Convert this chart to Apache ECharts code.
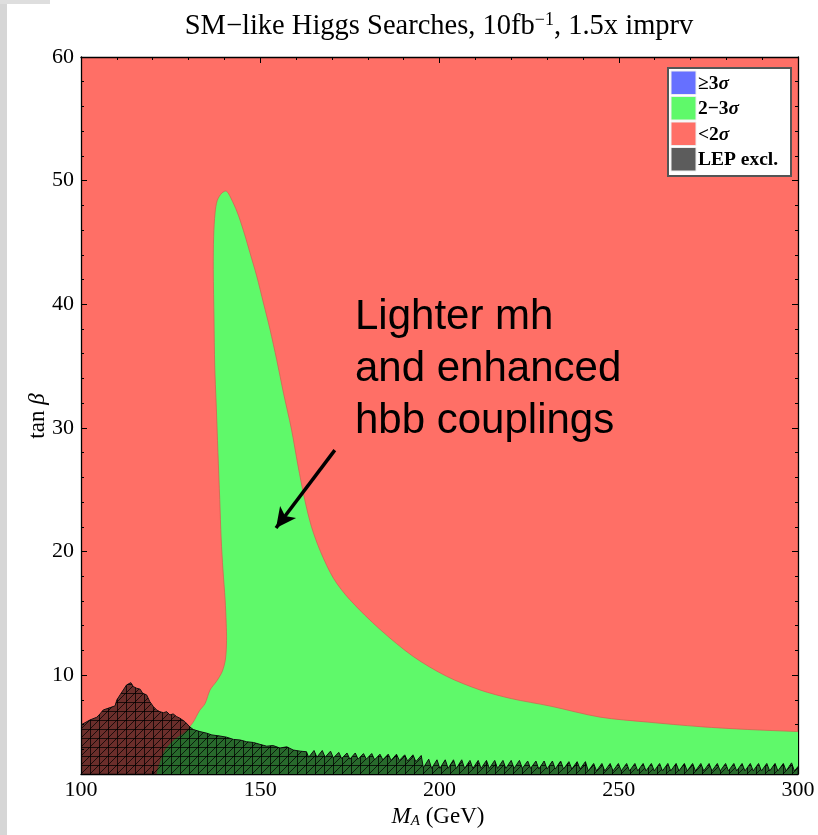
<!DOCTYPE html>
<html><head><meta charset="utf-8">
<script src="https://cdn.jsdelivr.net/npm/echarts@6/dist/echarts.min.js"></script>
<style>html,body{margin:0;padding:0;background:#fff}#c{width:818px;height:835px}</style>
</head><body><div id="c"></div>
<script>
// ---------- data ----------
const xRange = [100, 300];
const yRange = [2, 60];
const xMajorTicks = [100, 150, 200, 250, 300];
const yMajorTicks = [10, 20, 30, 40, 50, 60];
const xTickLabels = ['100', '150', '200', '250', '300'];
const yTickLabels = ['10', '20', '30', '40', '50', '60'];

// 2-3 sigma region boundary [M_A, tan beta]
const greenRegion = [
  [120,-4],[121,2],[122,3],[123.5,4],[126,4.8],[129,5.4],[131.3,6.2],[133,7.1],[134.6,7.7],
  [136,8.8],[137.8,9.5],[139.4,10.3],[140.3,11.3],[140.6,12.8],[140.5,14.2],[140.2,16.1],
  [139.6,18.5],[139.1,21],[138.7,24.2],[138.2,28],[137.7,32],[137.3,35],[137.1,38.8],
  [136.9,42.8],[137.0,45.5],[137.4,47.4],[138.0,48.4],[139.3,49.0],[140.6,49.15],[142.3,48.3],
  [143.9,47.2],[145.7,45.6],[147.1,44.2],[149.0,42.3],[150.9,40.1],[152.7,38],[154.6,35.5],
  [156.5,32.8],[158.7,29.9],[160.5,27],[162.4,24.2],[164.3,22],[166.8,20.0],[170.5,17.8],
  [175,16.1],[183.4,13.7],[192.7,11.5],[202,9.9],[211.3,8.8],[220,8.1],[230.8,7.5],
  [244.8,6.6],[258,6.2],[272.7,5.83],[286,5.6],[300,5.43],[306,5.35],[306,-4]
];

// LEP excluded region: upper edge [M_A, tan beta]
const lepTop = [
  [100,5.97],[102.5,6.37],[104.4,6.59],[105.3,6.86],[106.2,7.18],[108.1,7.37],[109.5,7.51],
  [110.0,7.99],[110.9,8.4],[111.8,8.8],[112.7,9.2],[113.9,9.39],[114.6,9.07],[115.5,8.94],
  [116.5,8.86],[117.2,8.53],[118.3,8.4],[119.2,7.85],[120.2,7.45],[121.1,7.18],[122.0,7.04],
  [123.0,6.96],[123.9,7.04],[124.8,6.78],[125.7,6.86],[126.7,6.64],[127.6,6.51],[129.0,6.23],
  [130.4,5.8],[131.3,5.6],[133.2,5.43],[135.1,5.3],[136.5,5.16],[138.8,5.07],[140.6,4.98],
  [142.5,4.8],[144.4,4.75],[146.2,4.61],[148.1,4.55],[149.9,4.4],[151.8,4.25],[153.6,4.3],
  [155.5,4.1],[157.4,4.2],[159.2,3.94],[161.1,3.85],[162.9,3.8],
  [163.5,3.35],[165,3.9],[165.8,3.35],[167.3,3.9],[168.1,3.35],[169.6,3.85],[170.4,3.3],
  [171.9,3.75],[172.7,3.25],[174.2,3.7],[175,3.2],[176.5,3.7],[177.3,3.2],[178.8,3.65],
  [179.6,3.2],[181.1,3.65],[181.9,3.15],[183.4,3.6],[184.2,3.15],[185.7,3.6],[186.5,3.1],
  [188,3.6],[188.8,3.1],[190.3,3.55],[191.1,3.05],[192.6,3.55],[193.4,3.0],[194.9,3.5],
  [195.5,2.5],[197,3.2],[197.8,2.45],[199.3,3.15],[200.1,2.45],[201.6,3.15],[202.4,2.45],
  [203.9,3.15],[204.7,2.45],[206.2,3.15],[207,2.45],[208.5,3.1],[209.3,2.45],[210.8,3.1],
  [211.6,2.45],[213.1,3.1],[213.9,2.45],[215.4,3.1],[216.2,2.45],[217.7,3.1],[218.5,2.45],
  [220,3.1],[220.8,2.45],[222.3,3.1],[223.1,2.45],[224.6,3.05],[225.4,2.45],[226.9,3.05],
  [227.7,2.4],[229.2,3.05],[230,2.4],[231.5,3.05],[232.3,2.4],[233.8,3.05],[234.6,2.4],
  [236.1,3.0],[236.9,2.4],[238.4,3.0],[239.2,2.4],[240.7,3.0],
  [241.5,2.25],[243,2.85],[243.8,2.25],[245.3,2.85],[246.1,2.25],[247.6,2.85],[248.4,2.25],
  [249.9,2.85],[250.7,2.25],[252.2,2.85],[253,2.25],[254.5,2.85],[255.3,2.25],[256.8,2.85],
  [257.6,2.25],[259.1,2.85],[259.9,2.25],[261.4,2.85],[262.2,2.25],[263.7,2.85],[264.5,2.25],
  [266,2.85],[266.8,2.25],[268.3,2.85],[269.1,2.25],[270.6,2.85],[271.4,2.25],[272.9,2.85],
  [273.7,2.25],[275.2,2.85],[276,2.25],[277.5,2.85],[278.3,2.25],[279.8,2.85],[280.6,2.25],
  [282.1,2.85],[282.9,2.25],[284.4,2.85],[285.2,2.25],[286.7,2.85],[287.5,2.25],[289,2.85],
  [289.8,2.25],[291.3,2.85],[292.1,2.25],[293.6,2.85],[294.4,2.25],[295.9,2.85],[296.7,2.25],
  [298.2,2.9],[299,2.25],[300,2.6],[300,1.5],[100,1.5]
];

const arrowStart = [170.8, 28.2];
const arrowEnd = [154.4, 21.9];

const legendLabels = ['≥3{i|σ}', '2−3{i|σ}', '<2{i|σ}', 'LEP excl.'];
const annotationLines = ['Lighter mh', 'and enhanced', 'hbb couplings'];

// ---------- styles ----------
const C_RED = '#FF6F66', C_GREEN = '#5FF96A', C_BLUE = '#6670FF', C_GRAY = '#5C5C5C';
const SERIF = 'Liberation Serif, Times New Roman, serif';
const legendColors = [C_BLUE, C_GREEN, C_RED, C_GRAY];

// hatch pattern (triangular mesh look) for LEP area
const cvs = document.createElement('canvas');
cvs.width = 9; cvs.height = 9;
const g = cvs.getContext('2d');
g.strokeStyle = 'rgba(0,0,0,0.75)'; g.lineWidth = 1;
g.beginPath();
g.moveTo(0, 0.5); g.lineTo(9, 0.5);
g.moveTo(0.5, 0); g.lineTo(0.5, 9);
g.moveTo(0, 9); g.lineTo(9, 0);
g.stroke();

function polySeries(name, pts, style, z, smooth) {
  return {
    type: 'custom', name: name, coordinateSystem: 'cartesian2d',
    xAxisIndex: 0, yAxisIndex: 0, clip: true, silent: true, z: z,
    data: [0],
    renderItem: function (params, api) {
      return { type: 'polygon', shape: { points: pts.map(p => api.coord(p)), smooth: smooth || 0 }, style: style };
    }
  };
}

const chart = echarts.init(document.getElementById('c'), null, { renderer: 'canvas' });
const tickStyle = { color: '#000', width: 1 };
const lineStyle = { color: '#000', width: 1.3 };
function mkAxis(dir, pos, opts) {
  const base = {
    type: 'value', position: pos,
    min: dir === 'x' ? xRange[0] : yRange[0], max: dir === 'x' ? xRange[1] : yRange[1],
    splitLine: { show: false },
    axisLine: { show: false, onZero: false, lineStyle: lineStyle },
    axisTick: { show: true, inside: true, length: 6, lineStyle: tickStyle },
    axisLabel: { show: false }
  };
  return Object.assign(base, opts);
}

const option = {
  animation: false,
  backgroundColor: '#fff',
  grid: { left: 81, right: 20, top: 57, bottom: 61, show: true, backgroundColor: C_RED, borderWidth: 0, containLabel: false },
  xAxis: [
    mkAxis('x', 'bottom', {
      interval: 50,
      axisLine: { show: true, onZero: false, lineStyle: lineStyle },
      axisLabel: { show: true, fontFamily: SERIF, fontSize: 22, color: '#000', margin: 5,
        formatter: v => xTickLabels[xMajorTicks.indexOf(v)] || '' }
    }),
    mkAxis('x', 'bottom', { interval: 10, axisTick: { show: true, inside: true, length: 3, lineStyle: tickStyle } }),
    mkAxis('x', 'top', { interval: 50, axisLine: { show: true, onZero: false, lineStyle: lineStyle } }),
    mkAxis('x', 'top', { interval: 10, axisTick: { show: true, inside: true, length: 3, lineStyle: tickStyle } })
  ],
  yAxis: [
    mkAxis('y', 'left', {
      axisLine: { show: true, onZero: false, lineStyle: lineStyle },
      axisTick: { show: true, inside: true, length: 6, lineStyle: tickStyle, customValues: yMajorTicks },
      axisLabel: { show: true, fontFamily: SERIF, fontSize: 22, color: '#000', margin: 7,
        customValues: yMajorTicks, formatter: v => yTickLabels[yMajorTicks.indexOf(v)] || '' }
    }),
    mkAxis('y', 'left', { interval: 2, axisTick: { show: true, inside: true, length: 3, lineStyle: tickStyle } }),
    mkAxis('y', 'right', {
      axisLine: { show: true, onZero: false, lineStyle: lineStyle },
      axisTick: { show: true, inside: true, length: 6, lineStyle: tickStyle, customValues: yMajorTicks }
    }),
    mkAxis('y', 'right', { interval: 2, axisTick: { show: true, inside: true, length: 3, lineStyle: tickStyle } })
  ],
  series: [
    polySeries('2-3σ', greenRegion, { fill: C_GREEN, stroke: 'rgba(215,90,80,0.7)', lineWidth: 1 }, 2, 0.3),
    polySeries('LEP excl.', lepTop, { fill: 'rgba(0,0,0,0.58)', stroke: '#111', lineWidth: 1 }, 3),
    polySeries('LEP mesh', lepTop, { fill: { type: 'pattern', image: cvs, repeat: 'repeat' }, stroke: null }, 4),
    {
      type: 'line', data: [], xAxisIndex: 0, yAxisIndex: 0, z: 6,
      markLine: {
        silent: true, animation: false,
        symbol: ['none', 'arrow'], symbolSize: [15, 20],
        label: { show: false },
        lineStyle: { color: '#000', width: 3.5, type: 'solid' },
        data: [[{ coord: arrowStart }, { coord: arrowEnd }]]
      }
    }
  ],
  graphic: [
    { type: 'rect', left: 0, top: 0, shape: { width: 7, height: 835 }, style: { fill: '#d6d6d6' }, z: 0 },
    { type: 'rect', left: 0, top: 0, shape: { width: 50, height: 4 }, style: { fill: '#dedede' }, z: 0 },
    {
      type: 'text', x: 439, y: 27, z: 10,
      style: {
        text: 'SM−like Higgs Searches, 10fb{sup|−1}, 1.5x imprv',
        font: '28.5px ' + SERIF, fill: '#000', align: 'center', verticalAlign: 'middle',
        rich: { sup: { fontFamily: SERIF, fontSize: 18, verticalAlign: 'top', lineHeight: 31 } }
      }
    },
    {
      type: 'text', x: 38, y: 416, rotation: Math.PI / 2, z: 10,
      style: { text: 'tan {i|β}', font: '23px ' + SERIF, fill: '#000', align: 'center', verticalAlign: 'middle',
        rich: { i: { fontFamily: SERIF, fontSize: 23, fontStyle: 'italic' } } }
    },
    {
      type: 'text', x: 438, y: 817, z: 10,
      style: { text: '{m|M}{a|A} (GeV)', font: '23px ' + SERIF, fill: '#000', align: 'center', verticalAlign: 'middle',
        rich: {
          m: { fontFamily: SERIF, fontSize: 23, fontStyle: 'italic' },
          a: { fontFamily: SERIF, fontSize: 15, fontStyle: 'italic', verticalAlign: 'bottom', lineHeight: 23 }
        } }
    },
    // annotation
    ...annotationLines.map((t, i) => ({
      type: 'text', x: 355, y: 317 + i * 52, z: 10,
      style: { text: t, font: '42px Liberation Sans, Arial, sans-serif', fill: '#000', align: 'left', verticalAlign: 'middle' }
    })),
    // legend
    {
      type: 'group', left: 667, top: 67, z: 20,
      children: [
        { type: 'rect', shape: { x: 0, y: 0, width: 123, height: 108 }, style: { fill: '#fff', stroke: '#555', lineWidth: 2 } },
        ...legendColors.map((c, i) => ({
          type: 'rect', shape: { x: 3, y: 3 + i * 25.5, width: 25, height: 23.5 }, style: { fill: c, stroke: '#eee', lineWidth: 1 }
        })),
        ...legendLabels.map((t, i) => ({
          type: 'text', x: 30, y: 15.5 + i * 25.5,
          style: { text: t, font: 'bold 19.5px ' + SERIF, fill: '#000', align: 'left', verticalAlign: 'middle',
            rich: { i: { fontFamily: SERIF, fontSize: 19.5, fontStyle: 'italic', fontWeight: 'bold' } } }
        }))
      ]
    }
  ]
};
chart.setOption(option);
</script></body></html>
